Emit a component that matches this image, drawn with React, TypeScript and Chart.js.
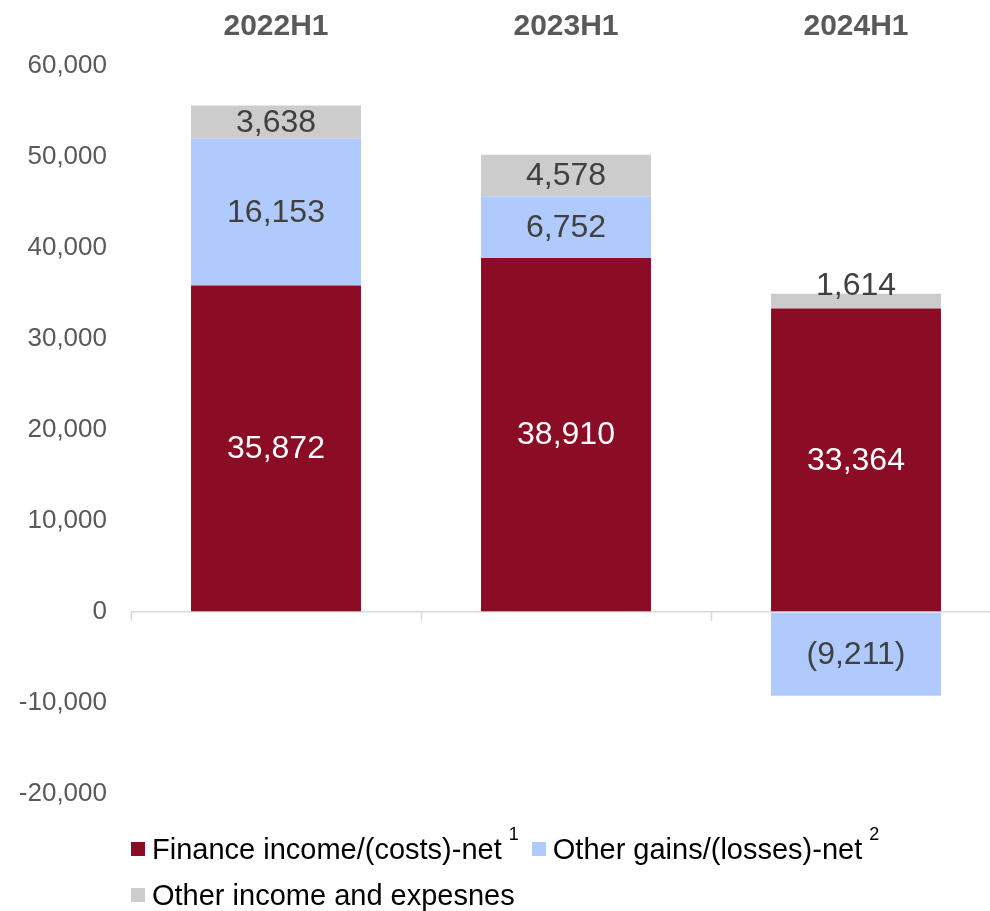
import React, { useEffect, useRef } from "react";
import { Chart, registerables } from "chart.js";

Chart.register(...registerables);

const categories = ["2022H1", "2023H1", "2024H1"];
const financeIncome = [35872, 38910, 33364];
const otherGains = [16153, 6752, -9211];
const otherIncome = [3638, 4578, 1614];
const yMin = -20000;
const yMax = 60000;
const yStep = 10000;
const seriesNames = [
  "Finance income/(costs)-net",
  "Other gains/(losses)-net",
  "Other income and expesnes",
];
const seriesNotes = ["1", "2", ""];
const seriesColors = ["#8A0C25", "#B0CAFD", "#CCCCCC"];
const labelColors = ["#FFFFFF", "#404040", "#404040"];

const FONT = "'Liberation Sans', Arial, sans-serif";

function fmt(v: number): string {
  const s = Math.abs(v).toLocaleString("en-US");
  return v < 0 ? `(${s})` : s;
}

const valueLabels = {
  id: "valueLabels",
  afterDatasetsDraw(chart: any) {
    const ctx = chart.ctx;
    ctx.save();
    ctx.font = `32px ${FONT}`;
    ctx.textAlign = "center";
    chart.data.datasets.forEach((ds: any, di: number) => {
      const meta = chart.getDatasetMeta(di);
      meta.data.forEach((el: any, i: number) => {
        const v = ds.data[i];
        const { x, y, base } = el.getProps(["x", "y", "base"], true);
        const top = Math.min(y, base);
        const h = Math.abs(base - y);
        ctx.fillStyle = labelColors[di];
        if (h < 30) {
          ctx.textBaseline = "alphabetic";
          ctx.fillText(fmt(v), x, top + 1);
        } else {
          ctx.textBaseline = "middle";
          ctx.fillText(fmt(v), x, (y + base) / 2 + 1);
        }
      });
    });
    ctx.restore();
  },
};

const zeroTicks = {
  id: "zeroTicks",
  afterDraw(chart: any) {
    const xs = chart.scales.x;
    const ys = chart.scales.y;
    const ctx = chart.ctx;
    const y0 = ys.getPixelForValue(0);
    const n = categories.length;
    const half = (xs.getPixelForValue(1) - xs.getPixelForValue(0)) / 2;
    ctx.save();
    ctx.strokeStyle = "#D9D9D9";
    ctx.lineWidth = 1.5;
    for (let i = 0; i < n; i++) {
      const px = Math.round(xs.getPixelForValue(i) - half) + 0.5;
      ctx.beginPath();
      ctx.moveTo(px, y0);
      ctx.lineTo(px, y0 + 9);
      ctx.stroke();
    }
    ctx.restore();
  },
};

export default function App() {
  const ref = useRef<HTMLCanvasElement | null>(null);

  useEffect(() => {
    document.body.style.margin = "0";
    if (!ref.current) return;
    const chart = new Chart(ref.current, {
      type: "bar",
      data: {
        labels: categories,
        datasets: [
          { label: seriesNames[0], data: financeIncome, backgroundColor: seriesColors[0] },
          { label: seriesNames[1], data: otherGains, backgroundColor: seriesColors[1] },
          { label: seriesNames[2], data: otherIncome, backgroundColor: seriesColors[2] },
        ],
      },
      options: {
        animation: false,
        responsive: false,
        maintainAspectRatio: false,
        layout: { padding: { left: 19, right: 0, top: 0, bottom: 117 } },
        datasets: {
          bar: { categoryPercentage: 1, barPercentage: 0.586 },
        },
        plugins: {
          legend: { display: false },
          tooltip: { enabled: false },
        },
        scales: {
          x: {
            stacked: true,
            position: "top",
            grid: { display: false, drawTicks: false },
            border: { display: false },
            afterFit: (s: any) => {
              s.height = 66;
            },
            ticks: {
              color: "#595959",
              padding: 21,
              font: { family: FONT, size: 30, weight: "bold" },
            },
          },
          y: {
            stacked: true,
            min: yMin,
            max: yMax,
            border: { display: false },
            afterFit: (s: any) => {
              s.width = 112;
            },
            grid: {
              drawTicks: false,
              lineWidth: 1.5,
              color: (c: any) => (c.tick && c.tick.value === 0 ? "#D9D9D9" : "rgba(0,0,0,0)"),
            },
            ticks: {
              stepSize: yStep,
              color: "#595959",
              padding: 24,
              font: { family: FONT, size: 26 },
              callback: (v: any) => Number(v).toLocaleString("en-US"),
            },
          },
        },
      },
      plugins: [valueLabels, zeroTicks],
    });
    return () => chart.destroy();
  }, []);

  return (
    <div style={{ position: "relative", width: 990, height: 911, overflow: "hidden", fontFamily: FONT }}>
      <canvas ref={ref} width={1001} height={911} style={{ display: "block", width: 1001, height: 911 }} />
      <div
        style={{
          position: "absolute",
          left: 131,
          top: 826,
          width: 850,
          display: "flex",
          flexWrap: "wrap",
          fontSize: 29,
          lineHeight: "46px",
          color: "#000",
        }}
      >
        {seriesNames.map((name, i) => (
          <div key={name} style={{ display: "flex", alignItems: "center", marginRight: 13, whiteSpace: "nowrap" }}>
            <span style={{ display: "inline-block", width: 14, height: 14, background: seriesColors[i], marginRight: 7 }} />
            <span>{name}</span>
            {seriesNotes[i] ? (
              <span style={{ fontSize: 18, position: "relative", top: -15, marginLeft: 7, lineHeight: "18px" }}>
                {seriesNotes[i]}
              </span>
            ) : null}
          </div>
        ))}
      </div>
    </div>
  );
}
